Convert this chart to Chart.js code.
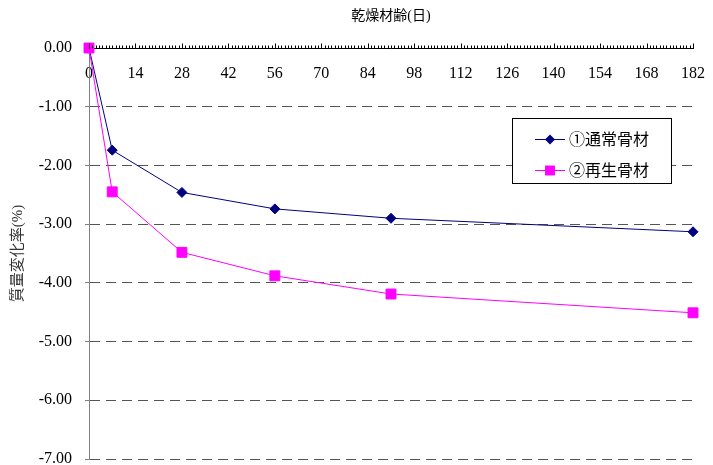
<!DOCTYPE html>
<html>
<head>
<meta charset="utf-8">
<script src="https://cdn.jsdelivr.net/npm/chart.js@4/dist/chart.umd.min.js"></script>
<style>
  html, body { margin: 0; padding: 0; background: #ffffff; }
  #wrap { width: 713px; height: 465px; }
</style>
</head>
<body>
<div id="wrap"><canvas id="c" width="713" height="465"></canvas></div>
<script>
// Drying age (days) and mass change (%) for each aggregate type
const days = [0, 7, 28, 56, 91, 182];
const normalAggregate = [0.00, -1.74, -2.46, -2.74, -2.90, -3.13];
const recycledAggregate = [0.00, -2.45, -3.48, -3.88, -4.19, -4.51];
const seriesNames = ['①通常骨材', '②再生骨材'];
const xAxisTitle = '乾燥材齢(日)';
const yAxisTitle = '質量変化率(%)';
const xRange = [0, 182];
const xStep = 14;
const yRange = [-7, 0];
const yStep = 1;

const SERIF = '"Liberation Serif", "Times New Roman", "Noto Sans CJK JP", serif';

function toPoints(values) {
  return days.map((d, i) => ({ x: d, y: values[i] }));
}

function drawMarker(ctx, style, r, x, y) {
  if (style === 'rect') {
    const s = Math.SQRT1_2 * r;
    ctx.rect(x - s, y - s, 2 * s, 2 * s);
  } else {
    ctx.moveTo(x - r, y);
    ctx.lineTo(x, y - r);
    ctx.lineTo(x + r, y);
    ctx.lineTo(x, y + r);
    ctx.closePath();
  }
}

// Small day ticks pointing up from the top axis line, longer at each labelled step
const dayTicks = {
  id: 'dayTicks',
  afterDatasetsDraw(chart) {
    const xs = chart.scales.x, ys = chart.scales.y, ctx = chart.ctx;
    const y0 = Math.round(ys.getPixelForValue(0)) + 0.5;
    ctx.save();
    ctx.strokeStyle = '#000000';
    ctx.lineWidth = 1;
    ctx.beginPath();
    for (let d = xRange[0]; d <= xRange[1]; d++) {
      const px = Math.round(xs.getPixelForValue(d)) + 0.5;
      const len = d % xStep === 0 ? 5 : 3;
      ctx.moveTo(px, y0);
      ctx.lineTo(px, y0 - len);
    }
    ctx.stroke();
    ctx.restore();
  }
};

// Boxed legend inside the plot
const boxLegend = {
  id: 'boxLegend',
  afterDraw(chart) {
    const ctx = chart.ctx;
    const bx = 512, by = 118, bw = 159, bh = 65;
    ctx.save();
    ctx.fillStyle = '#ffffff';
    ctx.fillRect(bx, by, bw, bh);
    ctx.strokeStyle = '#000000';
    ctx.lineWidth = 1;
    ctx.strokeRect(bx + 0.5, by + 0.5, bw, bh);
    const rows = [139, 170];
    chart.data.datasets.forEach((ds, i) => {
      const y = rows[i] + 0.5;
      ctx.strokeStyle = ds.borderColor;
      ctx.lineWidth = 1;
      ctx.beginPath();
      ctx.moveTo(535, y);
      ctx.lineTo(565, y);
      ctx.stroke();
      ctx.fillStyle = ds.pointBackgroundColor;
      ctx.beginPath();
      drawMarker(ctx, ds.pointStyle, ds.pointRadius, 550, y);
      ctx.fill();
      ctx.fillStyle = '#000000';
      ctx.font = '16px ' + SERIF;
      ctx.textBaseline = 'middle';
      ctx.textAlign = 'left';
      ctx.fillText(ds.label, 569, y + 1);
    });
    ctx.restore();
  }
};

new Chart(document.getElementById('c'), {
  type: 'line',
  data: {
    datasets: [
      {
        label: seriesNames[0],
        data: toPoints(normalAggregate),
        borderColor: '#000080',
        backgroundColor: '#000080',
        pointBackgroundColor: '#000080',
        pointBorderColor: '#000080',
        pointStyle: 'rectRot',
        pointRadius: 5,
        pointHoverRadius: 5,
        borderWidth: 1,
        tension: 0,
        clip: false,
        order: 1
      },
      {
        label: seriesNames[1],
        data: toPoints(recycledAggregate),
        borderColor: '#FF00FF',
        backgroundColor: '#FF00FF',
        pointBackgroundColor: '#FF00FF',
        pointBorderColor: '#FF00FF',
        pointStyle: 'rect',
        pointRadius: 7,
        pointHoverRadius: 7,
        borderWidth: 1,
        tension: 0,
        clip: false,
        order: 0
      }
    ]
  },
  plugins: [dayTicks, boxLegend],
  options: {
    responsive: false,
    animation: false,
    events: [],
    layout: { autoPadding: false, padding: { left: 0, right: 20, top: 0, bottom: 6 } },
    plugins: {
      legend: { display: false },
      tooltip: { enabled: false },
      title: {
        display: true,
        text: xAxisTitle,
        color: '#000000',
        font: { family: SERIF, size: 14, weight: 'normal', lineHeight: 1.2 },
        padding: { top: 8, bottom: 23.2 },
        fullSize: false
      }
    },
    scales: {
      x: {
        type: 'linear',
        position: { y: 0 },
        min: xRange[0],
        max: xRange[1],
        afterFit(scale) { scale.paddingLeft = 0; scale.paddingRight = 0; },
        ticks: {
          stepSize: xStep,
          color: '#000000',
          padding: 16,
          font: { family: SERIF, size: 16 },
          maxRotation: 0,
          autoSkip: false
        },
        grid: { display: false, drawTicks: false },
        border: { display: true, color: '#000000', width: 1 }
      },
      y: {
        type: 'linear',
        position: 'left',
        min: yRange[0],
        max: yRange[1],
        afterFit(scale) {
          scale.width = 89;
          scale.paddingTop = 0;
          scale.paddingBottom = 0;
        },
        ticks: {
          stepSize: yStep,
          color: '#000000',
          padding: 13,
          font: { family: SERIF, size: 16 },
          callback: v => v.toFixed(2)
        },
        grid: {
          color: ctx => (ctx.tick && ctx.tick.value === 0 ? 'rgba(0,0,0,0)' : '#555555'),
          lineWidth: 1,
          drawTicks: true,
          tickLength: 4,
          tickColor: '#808080',
          tickBorderDash: []
        },
        border: { display: true, color: '#808080', width: 1, dash: [10, 6] },
        title: {
          display: true,
          text: yAxisTitle,
          color: '#333333',
          font: { family: SERIF, size: 15, lineHeight: 1.2 },
          padding: { top: 9, bottom: 0 }
        }
      }
    }
  }
});
</script>
</body>
</html>
